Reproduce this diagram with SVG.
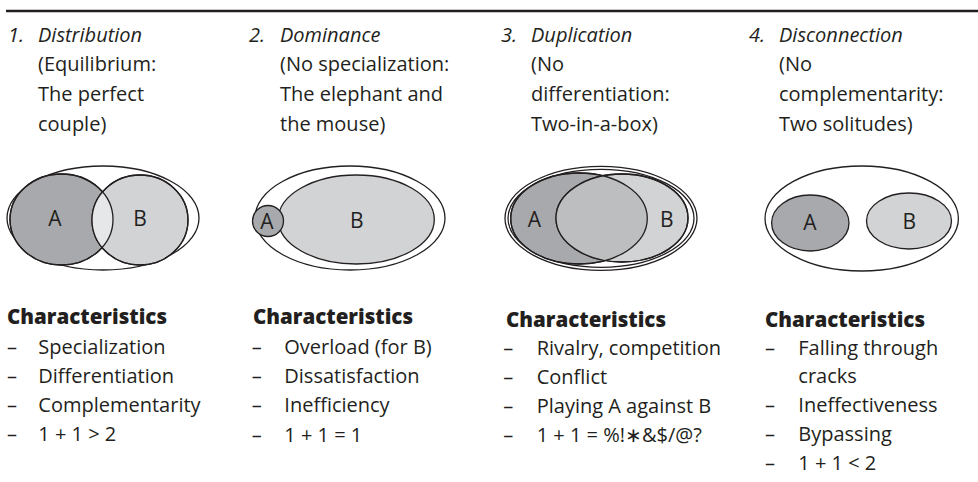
<svg xmlns="http://www.w3.org/2000/svg" width="978" height="482" viewBox="0 0 978 482">
  <style>
    text { font-family: "Open Sans", "Noto Sans", "Liberation Sans", sans-serif; fill: #231f20; }
    .title { font-size: 20px; font-style: italic; }
    .sub { font-size: 20px; }
    .lbl { font-size: 21px; text-anchor: middle; }
    .head { font-size: 20.5px; font-weight: 800; }
    .item { font-size: 20px; }
    .edge { stroke: #231f20; stroke-width: 1.3; }
    .ring { fill: #ffffff; }
    .dark { fill: #a7a9ac; }
    .light { fill: #d1d3d4; }
    .lens { fill: #e6e7e8; }
    .mid { fill: #bcbec0; }
    .none { fill: none; }
  </style>
  <defs>
    <clipPath id="clip1A"><ellipse cx="61.5" cy="219.5" rx="51.5" ry="45.5"/></clipPath>
    <clipPath id="clip3A"><ellipse cx="579" cy="218.5" rx="68.3" ry="45.5"/></clipPath>
  </defs>

  <!-- top rule -->
  <line x1="6" y1="11" x2="978" y2="11" stroke="#231f20" stroke-width="2.5"/>

  <!-- 1. Distribution -->
  <g id="col-distribution">
    <text class="title" x="8" y="41.5">1.</text>
    <text class="title" x="38" y="41.5">Distribution</text>
    <text class="sub" x="38" y="71">(Equilibrium:</text>
    <text class="sub" x="38" y="100.8">The perfect</text>
    <text class="sub" x="38" y="130.5">couple)</text>
    <ellipse class="ring edge" cx="103" cy="218" rx="96" ry="52"/>
    <ellipse class="dark edge" cx="61.5" cy="219.5" rx="51.5" ry="45.5"/>
    <ellipse class="light edge" cx="140" cy="220" rx="48" ry="45"/>
    <ellipse class="lens" cx="140" cy="220" rx="48" ry="45" clip-path="url(#clip1A)"/>
    <ellipse class="none edge" cx="61.5" cy="219.5" rx="51.5" ry="45.5"/>
    <ellipse class="none edge" cx="140" cy="220" rx="48" ry="45"/>
    <text class="lbl" x="55" y="226">A</text>
    <text class="lbl" x="140" y="226">B</text>
    <text class="head" x="7" y="324">Characteristics</text>
    <text class="item" x="7" y="354.3">–</text><text class="item" x="38.3" y="354.3">Specialization</text>
    <text class="item" x="7" y="383.3">–</text><text class="item" x="38.3" y="383.3">Differentiation</text>
    <text class="item" x="7" y="411.7">–</text><text class="item" x="38.3" y="411.7">Complementarity</text>
    <text class="item" x="7" y="441">–</text><text class="item" x="38.3" y="441">1 + 1 &gt; 2</text>
  </g>

  <!-- 2. Dominance -->
  <g id="col-dominance">
    <text class="title" x="249" y="41.5">2.</text>
    <text class="title" x="280" y="41.5">Dominance</text>
    <text class="sub" x="280" y="71">(No specialization:</text>
    <text class="sub" x="280" y="100.8">The elephant and</text>
    <text class="sub" x="280" y="130.5">the mouse)</text>
    <ellipse class="ring edge" cx="350" cy="218" rx="95" ry="52"/>
    <ellipse class="light edge" cx="356.3" cy="219.5" rx="78" ry="44.5"/>
    <circle class="dark edge" cx="268" cy="221" r="15.5"/>
    <text class="lbl" x="267" y="228.5">A</text>
    <text class="lbl" x="356.7" y="227.5">B</text>
    <text class="head" x="253" y="324">Characteristics</text>
    <text class="item" x="251.7" y="354">–</text><text class="item" x="284.3" y="354">Overload (for B)</text>
    <text class="item" x="251.7" y="383.3">–</text><text class="item" x="284.3" y="383.3">Dissatisfaction</text>
    <text class="item" x="251.7" y="411.7">–</text><text class="item" x="284.3" y="411.7">Inefficiency</text>
    <text class="item" x="251.7" y="441.7">–</text><text class="item" x="284.3" y="441.7">1 + 1 = 1</text>
  </g>

  <!-- 3. Duplication -->
  <g id="col-duplication">
    <text class="title" x="501" y="41.5">3.</text>
    <text class="title" x="531" y="41.5">Duplication</text>
    <text class="sub" x="531" y="71">(No</text>
    <text class="sub" x="531" y="100.8">differentiation:</text>
    <text class="sub" x="531" y="130.5">Two-in-a-box)</text>
    <ellipse class="ring edge" cx="601" cy="218.3" rx="96" ry="52"/>
    <ellipse class="none edge" cx="601" cy="218.3" rx="93" ry="49"/>
    <ellipse class="dark edge" cx="579" cy="218.5" rx="68.3" ry="45.5"/>
    <ellipse class="light edge" cx="622" cy="218" rx="66" ry="44"/>
    <ellipse class="mid" cx="622" cy="218" rx="66" ry="44" clip-path="url(#clip3A)"/>
    <ellipse class="none edge" cx="579" cy="218.5" rx="68.3" ry="45.5"/>
    <ellipse class="none edge" cx="622" cy="218" rx="66" ry="44"/>
    <text class="lbl" x="534.3" y="226.5">A</text>
    <text class="lbl" x="666.7" y="226.5">B</text>
    <text class="head" x="506" y="326.7">Characteristics</text>
    <text class="item" x="503.3" y="355">–</text><text class="item" x="536.7" y="355">Rivalry, competition</text>
    <text class="item" x="503.3" y="384.3">–</text><text class="item" x="536.7" y="384.3">Conflict</text>
    <text class="item" x="503.3" y="412.7">–</text><text class="item" x="536.7" y="412.7">Playing A against B</text>
    <text class="item" x="503.3" y="442">–</text><text class="item" x="536.7" y="442">1 + 1 = %!∗&amp;$/@?</text>
  </g>

  <!-- 4. Disconnection -->
  <g id="col-disconnection">
    <text class="title" x="749" y="41.5">4.</text>
    <text class="title" x="779" y="41.5">Disconnection</text>
    <text class="sub" x="779" y="71">(No</text>
    <text class="sub" x="779" y="100.8">complementarity:</text>
    <text class="sub" x="779" y="130.5">Two solitudes)</text>
    <ellipse class="ring edge" cx="861.7" cy="218.5" rx="96.7" ry="52.5"/>
    <ellipse class="dark edge" cx="810.3" cy="223" rx="38.7" ry="28"/>
    <ellipse class="light edge" cx="909" cy="221" rx="42.5" ry="28"/>
    <text class="lbl" x="810" y="230">A</text>
    <text class="lbl" x="909.3" y="228.5">B</text>
    <text class="head" x="765" y="326.7">Characteristics</text>
    <text class="item" x="765" y="355">–</text><text class="item" x="798.3" y="355">Falling through</text>
    <text class="item" x="798.3" y="383.3">cracks</text>
    <text class="item" x="765" y="412.3">–</text><text class="item" x="798.3" y="412.3">Ineffectiveness</text>
    <text class="item" x="765" y="441">–</text><text class="item" x="798.3" y="441">Bypassing</text>
    <text class="item" x="765" y="470">–</text><text class="item" x="798.3" y="470">1 + 1 &lt; 2</text>
  </g>
</svg>
